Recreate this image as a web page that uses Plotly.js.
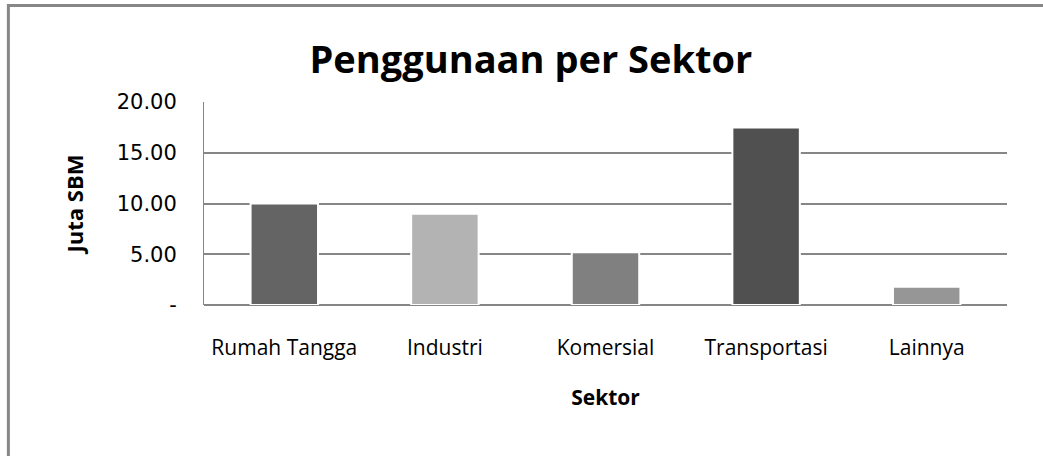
<!DOCTYPE html>
<html>
<head>
<meta charset="utf-8">
<script src="https://cdn.plot.ly/plotly-3.0.1.min.js"></script>
<style>
  body { margin: 0; background: #fff; }
  #myPlot { width: 1043px; height: 456px; }
</style>
</head>
<body>
<div id="myPlot"></div>
<script>
// data (Juta SBM)
const sektor = ["Rumah Tangga", "Industri", "Komersial", "Transportasi", "Lainnya"];
const nilai = [10.0, 9.0, 5.2, 17.5, 1.8];
const warna = ["#646464", "#b3b3b3", "#808080", "#505050", "#969696"];
const tickVals = [0, 5, 10, 15, 20];
const tickText = ["-", "5.00", "10.00", "15.00", "20.00"];

const data = [{
  type: "bar",
  x: sektor,
  y: nilai,
  width: 0.42,
  marker: { color: warna, line: { color: "#ffffff", width: 2 } },
  hoverinfo: "x+y"
}];

const layout = {
  width: 1043,
  height: 456,
  margin: { l: 204, r: 36, t: 102, b: 151 },
  paper_bgcolor: "#ffffff",
  plot_bgcolor: "#ffffff",
  showlegend: false,
  title: {
    text: "<b>Penggunaan per Sektor</b>",
    font: { family: "Open Sans, sans-serif", size: 38, color: "#000" },
    x: 0.509, xanchor: "center",
    y: 0.87, yanchor: "middle"
  },
  xaxis: {
    showgrid: false,
    showline: false,
    zeroline: false,
    ticks: "outside",
    ticklen: 24,
    tickcolor: "rgba(0,0,0,0)",
    tickfont: { family: "Open Sans, sans-serif", size: 21, color: "#000" },
    title: {
      text: "<b>Sektor</b>",
      font: { family: "Open Sans, sans-serif", size: 21, color: "#000" },
      standoff: 30
    }
  },
  yaxis: {
    range: [0, 20],
    tickvals: tickVals,
    ticktext: tickText,
    showgrid: true,
    gridcolor: "#868686",
    gridwidth: 2,
    zeroline: true,
    zerolinecolor: "#868686",
    zerolinewidth: 2,
    showline: true,
    linecolor: "#868686",
    linewidth: 1,
    ticks: "outside",
    ticklen: 22,
    tickcolor: "rgba(0,0,0,0)",
    tickfont: { family: "DejaVu Sans, sans-serif", size: 21, color: "#000" },
    title: {
      text: "<b>Juta SBM</b>",
      font: { family: "Open Sans, sans-serif", size: 22, color: "#000" },
      standoff: 26
    }
  },
  shapes: [{
    // outer chart frame
    type: "rect", xref: "paper", yref: "paper", layer: "above",
    x0: -0.2436, x1: 1.2, y0: -1, y1: 1.4754,
    line: { color: "#878787", width: 3 }
  }]
};

Plotly.newPlot("myPlot", data, layout, { displayModeBar: false, staticPlot: true });
</script>
</body>
</html>
